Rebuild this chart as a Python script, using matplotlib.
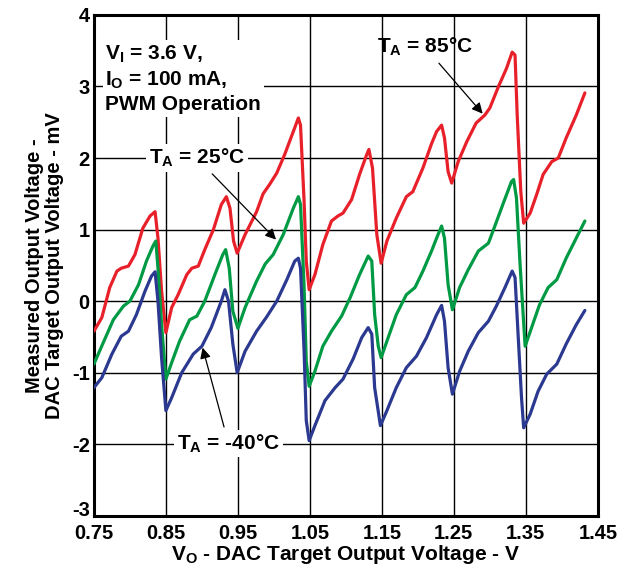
import matplotlib
matplotlib.use('Agg')
import matplotlib.pyplot as plt

plt.rcParams['font.family'] = ['Liberation Sans', 'DejaVu Sans']
plt.rcParams['font.weight'] = 'bold'
plt.rcParams['axes.unicode_minus'] = False
plt.rcParams['mathtext.fontset'] = 'custom'
plt.rcParams['mathtext.rm'] = 'Liberation Sans:bold'
plt.rcParams['mathtext.it'] = 'Liberation Sans:bold'
plt.rcParams['mathtext.bf'] = 'Liberation Sans:bold'

# Ta = 85 C (rouge)
x_85 = [0.750, 0.761, 0.772, 0.782, 0.788, 0.798, 0.807, 0.818, 0.828, 0.835, 0.839, 0.844, 0.850,
        0.858, 0.867, 0.879, 0.886, 0.895, 0.904, 0.916, 0.927, 0.934, 0.939, 0.944, 0.949,
        0.960, 0.976, 0.985, 0.994, 1.004, 1.015, 1.027, 1.034, 1.037, 1.042, 1.045, 1.049,
        1.057, 1.068, 1.080, 1.089, 1.096, 1.108, 1.119, 1.129, 1.132, 1.137, 1.143, 1.149,
        1.157, 1.170, 1.184, 1.193, 1.207, 1.219, 1.226, 1.233, 1.237, 1.242, 1.247,
        1.256, 1.268, 1.281, 1.293, 1.300, 1.312, 1.323, 1.331, 1.335, 1.338, 1.343, 1.347,
        1.356, 1.365, 1.374, 1.386, 1.395, 1.406, 1.420, 1.432]
y_85 = [-0.42, -0.23, 0.19, 0.42, 0.46, 0.49, 0.65, 1.02, 1.19, 1.25, 0.88, 0.14, -0.44,
        -0.09, 0.09, 0.37, 0.46, 0.49, 0.72, 1.00, 1.35, 1.46, 1.30, 0.84, 0.67,
        0.93, 1.25, 1.50, 1.63, 1.79, 2.05, 2.37, 2.56, 2.46, 1.39, 0.56, 0.16,
        0.37, 0.79, 1.12, 1.19, 1.23, 1.42, 1.77, 2.05, 2.12, 1.86, 0.93, 0.53,
        0.84, 1.16, 1.46, 1.53, 1.86, 2.20, 2.37, 2.46, 2.28, 1.81, 1.65,
        1.95, 2.23, 2.49, 2.60, 2.70, 3.00, 3.25, 3.48, 3.44, 2.60, 1.53, 1.09,
        1.23, 1.49, 1.77, 1.95, 2.00, 2.28, 2.60, 2.91]

# Ta = 25 C (vert)
x_25 = [0.750, 0.763, 0.777, 0.791, 0.800, 0.812, 0.823, 0.832, 0.836, 0.839, 0.844, 0.850,
        0.858, 0.869, 0.883, 0.893, 0.904, 0.918, 0.929, 0.933, 0.938, 0.943, 0.950,
        0.960, 0.976, 0.988, 0.999, 1.013, 1.027, 1.034, 1.037, 1.042, 1.045, 1.049,
        1.057, 1.068, 1.080, 1.094, 1.106, 1.119, 1.131, 1.136, 1.140, 1.145, 1.149,
        1.157, 1.170, 1.184, 1.196, 1.207, 1.219, 1.226, 1.233, 1.237, 1.242, 1.248,
        1.258, 1.270, 1.284, 1.298, 1.307, 1.318, 1.330, 1.333, 1.337, 1.342, 1.349,
        1.358, 1.369, 1.381, 1.393, 1.406, 1.420, 1.432]
y_25 = [-0.88, -0.58, -0.26, -0.07, 0.00, 0.23, 0.56, 0.77, 0.84, 0.46, -0.33, -1.09,
        -0.86, -0.56, -0.26, -0.21, 0.00, 0.37, 0.65, 0.72, 0.46, -0.14, -0.38,
        -0.09, 0.28, 0.52, 0.65, 0.93, 1.30, 1.46, 1.35, 0.19, -0.84, -1.19,
        -0.98, -0.63, -0.42, -0.21, 0.05, 0.37, 0.63, 0.56, -0.19, -0.63, -0.79,
        -0.56, -0.19, 0.09, 0.19, 0.42, 0.70, 0.88, 1.05, 0.88, 0.23, -0.12,
        0.19, 0.44, 0.70, 0.81, 1.05, 1.35, 1.67, 1.70, 1.44, 0.51, -0.63,
        -0.37, -0.05, 0.19, 0.30, 0.60, 0.88, 1.12]

# Ta = -40 C (bleu)
x_m40 = [0.750, 0.761, 0.775, 0.788, 0.798, 0.809, 0.821, 0.830, 0.835, 0.839, 0.844, 0.850,
         0.858, 0.872, 0.888, 0.900, 0.913, 0.927, 0.932, 0.937, 0.943, 0.949,
         0.960, 0.976, 0.990, 1.004, 1.018, 1.029, 1.034, 1.037, 1.042, 1.045, 1.049,
         1.057, 1.071, 1.085, 1.096, 1.110, 1.122, 1.131, 1.136, 1.140, 1.148,
         1.157, 1.170, 1.184, 1.198, 1.212, 1.226, 1.233, 1.237, 1.242, 1.248,
         1.258, 1.270, 1.284, 1.298, 1.309, 1.321, 1.331, 1.335, 1.339, 1.344, 1.347,
         1.356, 1.367, 1.379, 1.393, 1.406, 1.420, 1.432]
y_m40 = [-1.21, -1.07, -0.74, -0.49, -0.42, -0.19, 0.14, 0.35, 0.41, 0.00, -0.79, -1.53,
         -1.35, -1.00, -0.74, -0.63, -0.37, 0.00, 0.16, 0.00, -0.60, -1.00,
         -0.70, -0.42, -0.22, 0.00, 0.30, 0.56, 0.60, 0.46, -0.70, -1.67, -1.95,
         -1.74, -1.39, -1.21, -1.09, -0.81, -0.51, -0.37, -0.46, -1.21, -1.74,
         -1.53, -1.21, -0.93, -0.77, -0.51, -0.19, -0.06, -0.28, -0.93, -1.30,
         -0.98, -0.70, -0.44, -0.28, -0.07, 0.19, 0.42, 0.33, -0.42, -1.35, -1.77,
         -1.58, -1.26, -1.02, -0.88, -0.60, -0.33, -0.13]

x_ticks = [0.75, 0.85, 0.95, 1.05, 1.15, 1.25, 1.35, 1.45]
y_ticks = [-3, -2, -1, 0, 1, 2, 3, 4]

fig = plt.figure(figsize=(6.26, 5.75), dpi=100)
ax = fig.add_axes([0.150, 0.103, 0.805, 0.871])

for xs, ys, c in [(x_85, y_85, '#E8202A'), (x_25, y_25, '#009A44'), (x_m40, y_m40, '#2B3990')]:
    ax.plot(xs, ys, color=c, lw=2.3, zorder=3, solid_joinstyle='round', solid_capstyle='round')

ax.set_xlim(0.75, 1.45)
ax.set_ylim(-3, 4)
ax.set_xticks(x_ticks)
ax.set_xticklabels([f'{v:.2f}' for v in x_ticks])
ax.set_yticks(y_ticks)
ax.tick_params(length=0, labelsize=14.5)
ax.tick_params(axis='x', pad=6)
ax.tick_params(axis='y', pad=3)
for lab in ax.get_xticklabels() + ax.get_yticklabels():
    lab.set_fontweight('bold')
# le "-3" est posé sur la ligne du bas, comme dans l'original
ax.yaxis.get_major_ticks()[0].label1.set_verticalalignment('baseline')
ax.grid(True, color='black', lw=1.0)
ax.set_axisbelow(True)
for s in ax.spines.values():
    s.set_linewidth(2.2)

ax.set_xlabel(r'V$_\mathrm{O}$ - DAC Target Output Voltage - V', fontsize=15,
              fontweight='bold', labelpad=0)
ax.set_ylabel('Measured Output Voltage -\nDAC Target Output Voltage - mV',
              fontsize=14.5, fontweight='bold', labelpad=6, linespacing=1.05)

box = dict(facecolor='white', edgecolor='none', pad=2)
ax.text(0.766, 3.6, r'V$_\mathrm{I}$ = 3.6 V,' + '\n' + r'I$_\mathrm{O}$ = 100 mA,' + '\nPWM Operation',
        fontsize=15, fontweight='bold', va='top', ha='left', linespacing=1.3,
        bbox=box, zorder=4)

arrow = dict(arrowstyle='-|>', color='black', lw=0.9, mutation_scale=16, shrinkA=2, shrinkB=0)
ax.annotate(r'T$_\mathrm{A}$ = 85°C', xy=(1.290, 2.62), xytext=(1.21, 3.55),
            fontsize=15, fontweight='bold', ha='center', va='center',
            arrowprops=arrow, zorder=4)
ax.annotate(r'T$_\mathrm{A}$ = 25°C', xy=(1.003, 0.86), xytext=(0.893, 2.0),
            fontsize=15, fontweight='bold', ha='center', va='center',
            arrowprops=arrow, bbox=box, zorder=4)
ax.annotate(r'T$_\mathrm{A}$ = -40°C', xy=(0.901, -0.65), xytext=(0.937, -1.99),
            fontsize=15, fontweight='bold', ha='center', va='center',
            arrowprops=arrow, bbox=box, zorder=4)

fig.savefig('out.png', dpi=100)
